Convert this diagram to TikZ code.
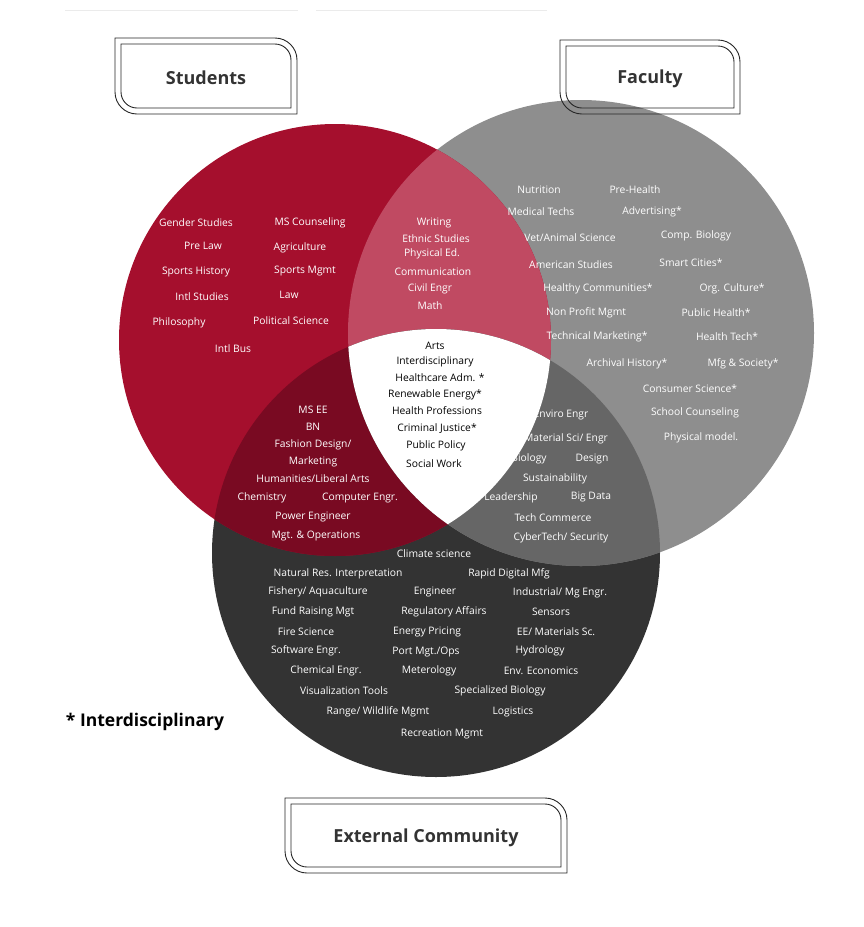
\documentclass[tikz,border=0pt]{standalone}
\usepackage{fontspec}
\setmainfont{Open Sans}
\begin{document}
\begin{tikzpicture}[x=1pt,y=-1pt,
  lab/.style={text=white,font=\fontsize{10.3}{11}\selectfont,inner sep=0pt},
  clab/.style={text=black,font=\fontsize{10.3}{11}\selectfont,inner sep=0pt},
  title/.style={font=\fontsize{18}{20}\selectfont\bfseries,text=black!80},
  frame/.style={draw=black!85,line width=0.9pt}]
\definecolor{cred}{HTML}{A50F2D}
\definecolor{cgray}{HTML}{8E8E8E}
\definecolor{cdark}{HTML}{333333}
\definecolor{crg}{HTML}{C04A62}
\definecolor{crd}{HTML}{790A22}
\definecolor{cgd}{HTML}{666666}
\useasboundingbox (0,0) rectangle (864,927);
\draw[black!8,line width=1pt] (65,10) -- (298,10) (316,10) -- (547,10);
\def\R{(335,340) circle (216)}
\def\G{(581,333) circle (233)}
\def\D{(436,553) circle (224)}
\fill[cdark] \D;
\fill[cgray] \G;
\fill[cred] \R;
\begin{scope}\clip \R; \fill[crg] \G; \fill[crd] \D; \end{scope}
\begin{scope}\clip \G; \fill[cgd] \D; \end{scope}
\begin{scope}\clip \R; \clip \G; \fill[white] \D; \end{scope}
% title boxes
\newcommand{\tbox}[5]{%
 \draw[frame] (#1,#2) -- (#3-22,#2) arc[start angle=270,end angle=360,radius=22] -- (#3,#4) -- (#1+22,#4) arc[start angle=90,end angle=180,radius=22] -- cycle;
 \draw[frame] (#1+6,#2+6) -- (#3-22,#2+6) arc[start angle=270,end angle=360,radius=16] -- (#3-6,#4-6) -- (#1+22,#4-6) arc[start angle=90,end angle=180,radius=16] -- cycle;
 \node[title] at ({(#1+#3)/2},{(#2+#4)/2+2}) {#5};}
\tbox{115}{38}{297}{114}{Students}
\tbox{560}{40}{740}{114}{Faculty}
\tbox{285}{798}{567}{873}{External Community}
\node[font=\fontsize{17.5}{19}\selectfont\bfseries] (star) at (145,722) {* Interdisciplinary};
% red only
\foreach \t/\x/\y [count=\i] in {Gender Studies/196/223, MS Counseling/310/223, Pre Law/203/246, Agriculture/300/248, Sports History/196/272, Sports Mgmt/305/271, Intl Studies/202/297, Law/289/295, Philosophy/179/323, Political Science/291/321, Intl Bus/233/349}
  \node[lab] (r\i) at (\x,\y) {\t};
\foreach \t/\x/\y [count=\i] in {Writing/434/223, Ethnic Studies/436/239, Physical Ed./432/254, Communication/433/272, Civil Engr/430/289, Math/430/306}
  \node[lab] (rg\i) at (\x,\y) {\t};
\foreach \t/\x/\y [count=\i] in {Nutrition/539/190, Pre-Health/635/190, Medical Techs/541/212, Advertising*/652/212, {Vet/Animal Science}/570/238, Comp. Biology/696/236, American Studies/571/265, Smart Cities*/691/263, Healthy Communities*/598/289, Org. Culture*/732/289, Non Profit Mgmt/586/313, Public Health*/716/313, Technical Marketing*/597/337, Health Tech*/727/337, Archival History*/627/364, Mfg \& Society*/743/364, Consumer Science*/690/389, School Counseling/695/413, Physical model./701/438}
  \node[lab] (g\i) at (\x,\y) {\t};
\foreach \t/\x/\y [count=\i] in {Arts/435/346, Interdisciplinary/435/362, Healthcare Adm. */440/378, Renewable Energy*/435/395, Health Professions/437/411, Criminal Justice*/437/429, Public Policy/436/446, Social Work/434/464}
  \node[clab] (c\i) at (\x,\y) {\t};
\foreach \t/\x/\y [count=\i] in {MS EE/313/410, BN/313/427, {Fashion Design/}/313/445, Marketing/313/462, {Humanities/Liberal Arts}/313/479, Chemistry/262/498, Computer Engr./360/498, Power Engineer/313/517, Mgt. \& Operations/316/536}
  \node[lab] (rd\i) at (\x,\y) {\t};
\foreach \t/\x/\y [count=\i] in {Enviro Engr/561/415, {Material Sci/ Engr}/566/439, Biology/529/459, Design/592/459, Sustainability/555/479, Leadership/511/498, Big Data/591/497, Tech Commerce/553/518, {CyberTech/ Security}/561/538}
  \node[lab] (gd\i) at (\x,\y) {\t};
\foreach \t/\x/\y [count=\i] in {Climate science/434/554, Natural Res. Interpretation/338/574, Rapid Digital Mfg/509/574, {Fishery/ Aquaculture}/318/592, Engineer/435/592, {Industrial/ Mg Engr.}/560/593, Fund Raising Mgt/313/612, Regulatory Affairs/444/612, Sensors/551/612, Fire Science/306/632, Energy Pricing/427/632, {EE/ Materials Sc.}/556/632, Software Engr./306/651, {Port Mgt./Ops}/426/652, Hydrology/540/651, Chemical Engr./326/671, Meterology/429/671, Env. Economics/541/671, Visualization Tools/344/691, Specialized Biology/500/691, {Range/ Wildlife Mgmt}/378/712, Logistics/513/712, Recreation Mgmt/442/734}
  \node[lab] (d\i) at (\x,\y) {\t};
\end{tikzpicture}
\end{document}
